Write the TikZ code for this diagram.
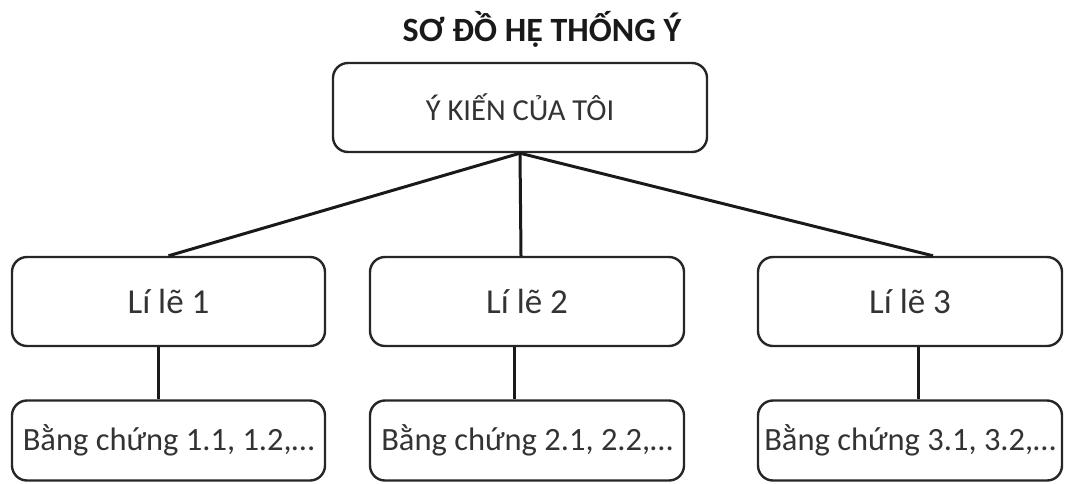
\documentclass[tikz,border=0pt]{standalone}
\usepackage{fontspec}
\setmainfont{Carlito}
\begin{document}
\begin{tikzpicture}[x=1pt,y=-1pt,
  box/.style={draw=black!85, line width=2.4pt, rounded corners=15pt, inner sep=0pt, text=black!80},
  conn/.style={draw=black!90, line width=3pt},
  lbl/.style={font=\fontsize{35}{38}\selectfont},
  evid/.style={font=\fontsize{32.5}{36}\selectfont}]
\useasboundingbox (0,0) rectangle (1065,483);
\node[font=\bfseries\fontsize{34}{38}\selectfont, text=black!90] (title) at (542,29) {SƠ ĐỒ HỆ THỐNG Ý};
\node[box, minimum width=374pt, minimum height=89pt, font=\fontsize{30.5}{34}\selectfont] (top) at (520,107.5) {Ý KIẾN CỦA TÔI};
\node[box, lbl, minimum width=313pt, minimum height=89pt] (L1) at (168.5,301.5) {Lí lẽ 1};
\node[box, lbl, minimum width=314pt, minimum height=89pt] (L2) at (527,301.5) {Lí lẽ 2};
\node[box, lbl, minimum width=304pt, minimum height=89pt] (L3) at (910,301.5) {Lí lẽ 3};
\node[box, evid, minimum width=313pt, minimum height=80pt] (B1) at (168.5,440.5) {Bằng chứng 1.1, 1.2,…};
\node[box, evid, minimum width=314pt, minimum height=80pt] (B2) at (527,440.5) {Bằng chứng 2.1, 2.2,…};
\node[box, evid, minimum width=304pt, minimum height=80pt] (B3) at (910,440.5) {Bằng chứng 3.1, 3.2,…};
\draw[conn] (top.south) -- (L1.north);
\draw[conn] (top.south) -- ([xshift=-6pt]L2.north);
\draw[conn] (top.south) -- ([xshift=23pt]L3.north);
\draw[conn] ([xshift=-10pt]L1.south) -- ([xshift=-10pt]B1.north);
\draw[conn] ([xshift=-13pt]L2.south) -- ([xshift=-13pt]B2.north);
\draw[conn] ([xshift=8pt]L3.south) -- ([xshift=8pt]B3.north);
\end{tikzpicture}
\end{document}
